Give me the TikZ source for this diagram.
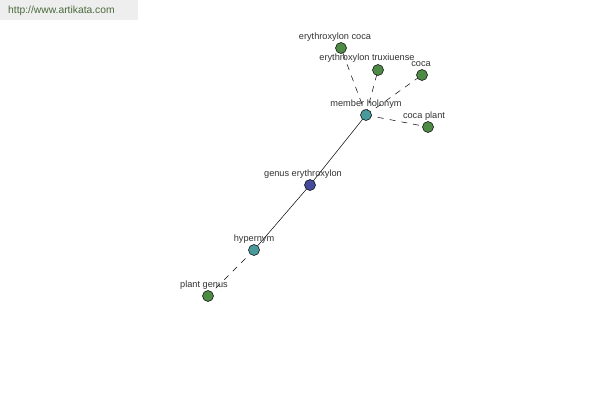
\documentclass[tikz,border=0pt]{standalone}
\usepackage{fontspec}
\setmainfont{Liberation Sans}
\definecolor{leafgreen}{HTML}{4E8A45}
\definecolor{tealc}{HTML}{4A9A9C}
\definecolor{bluec}{HTML}{454A9A}
\definecolor{labelc}{HTML}{333333}
\definecolor{bannerbg}{HTML}{EEEEEE}
\definecolor{bannertx}{HTML}{4A6A3A}
\begin{document}
\begin{tikzpicture}[x=1pt,y=-1pt,
  dot/.style={circle,draw=black,line width=0.5pt,minimum size=11pt,inner sep=0pt},
  lbl/.style={font=\fontsize{9.2}{10}\selectfont,text=labelc,inner sep=0pt},
  link/.style={line width=0.5pt,black},
  dlink/.style={line width=0.5pt,black,dash pattern=on 6pt off 6pt}]
\useasboundingbox[fill=white] (0,0) rectangle (600,400);
\fill[bannerbg] (0,0) rectangle (138,20);
\node[anchor=west,font=\fontsize{10.3}{11}\selectfont,text=bannertx,inner sep=0pt] (banner) at (8,11) {http://www.artikata.com};
% edges first
\coordinate (cmh) at (366,115);
\coordinate (cec) at (341,48);
\coordinate (cet) at (378,70);
\coordinate (cco) at (422,75);
\coordinate (ccp) at (428,127);
\coordinate (cge) at (310,185);
\coordinate (chy) at (254,250);
\coordinate (cpg) at (208,296);
\draw[dlink] (cmh) -- (cec);
\draw[dlink] (cmh) -- (cet);
\draw[dlink] (cmh) -- (cco);
\draw[dlink] (cmh) -- (ccp);
\draw[link] (cmh) -- (cge);
\draw[link] (cge) -- (chy);
\draw[dlink] (chy) -- (cpg);
% nodes
\node[dot,fill=tealc] (mh) at (cmh) {};
\node[dot,fill=leafgreen] (ec) at (cec) {};
\node[dot,fill=leafgreen] (et) at (cet) {};
\node[dot,fill=leafgreen] (co) at (cco) {};
\node[dot,fill=leafgreen] (cp) at (ccp) {};
\node[dot,fill=bluec] (ge) at (cge) {};
\node[dot,fill=tealc] (hy) at (chy) {};
\node[dot,fill=leafgreen] (pg) at (cpg) {};
% labels
\node[lbl] (lec) at (335,37) {erythroxylon coca};
\node[lbl] (let) at (367,58) {erythroxylon truxiuense};
\node[lbl] (lco) at (421,64) {coca};
\node[lbl] (lmh) at (366,104) {member holonym};
\node[lbl] (lcp) at (424,116) {coca plant};
\node[lbl] (lge) at (303,174) {genus erythroxylon};
\node[lbl] (lhy) at (254,239) {hypernym};
\node[lbl] (lpg) at (204,285) {plant genus};
\end{tikzpicture}
\end{document}
